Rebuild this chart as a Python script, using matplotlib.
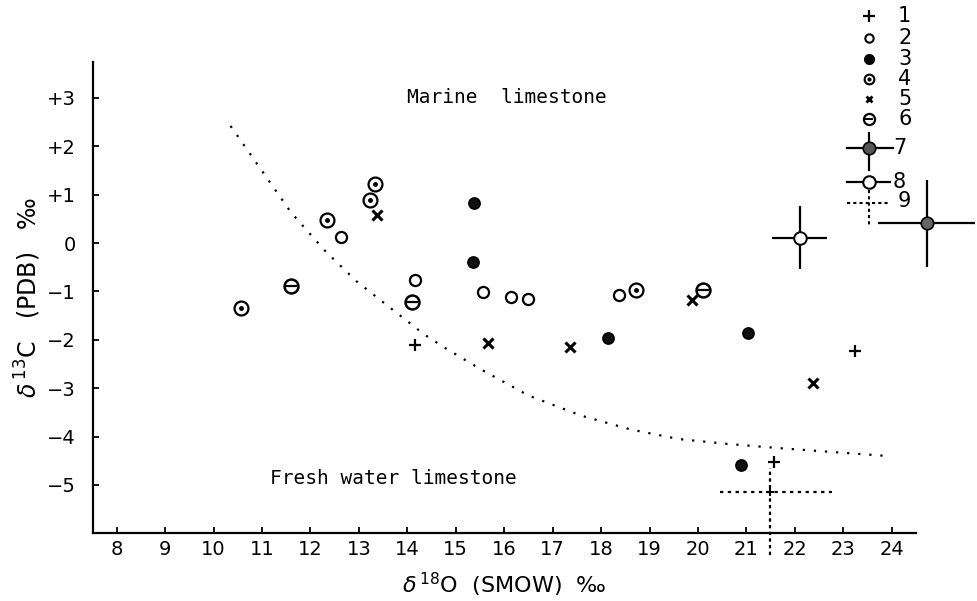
import matplotlib
matplotlib.use("Agg")
import matplotlib.pyplot as plt
import numpy as np

plt.rcParams['font.family'] = ['DejaVu Sans']

# delta18O (SMOW) / delta13C (PDB)
t1_x = [14.16, 23.24, 21.56]
t1_y = [-2.11, -2.23, -4.52]
t2_x = [12.63, 14.16, 15.56, 16.14, 16.50, 18.37]
t2_y = [0.13, -0.76, -1.01, -1.11, -1.16, -1.07]
t3_x = [15.38, 15.36, 18.15, 21.04, 20.89]
t3_y = [0.82, -0.40, -1.96, -1.85, -4.59]
t4_x = [13.33, 13.23, 12.34, 10.57, 18.73]
t4_y = [1.23, 0.89, 0.48, -1.34, -0.96]
t5_x = [13.37, 15.67, 17.36, 19.87, 22.38]
t5_y = [0.58, -2.06, -2.14, -1.18, -2.89]
t6_x = [11.60, 14.10, 20.10]
t6_y = [-0.89, -1.21, -0.97]
# points with ranges
t7 = dict(x=24.72, y=0.41, xerr=1.0, yerr=0.9)
t8 = dict(x=22.10, y=0.11, xerr=0.57, yerr=0.65)
t9 = dict(x=21.49, y=-5.14, xlo=20.46, xhi=22.76, ylo=-6.45, yhi=-4.65)

# dotted boundary marine / fresh water
bx = [10.35, 11.0, 11.6, 12.3, 12.95, 13.7, 14.35, 14.75, 15.5, 16.5,
      17.6, 18.6, 19.6, 20.6, 21.7, 22.8, 23.9]
by = [2.42, 1.49, 0.63, -0.16, -0.79, -1.38, -1.89, -2.15, -2.6, -3.15,
      -3.57, -3.85, -4.05, -4.15, -4.24, -4.32, -4.40]

xticks = list(range(8, 25))
yticks = [3, 2, 1, 0, -1, -2, -3, -4, -5]
ylabels = ['+3', '+2', '+1', '0', '\u22121', '\u22122', '\u22123', '\u22124', '\u22125']
legend_nums = ['1', '2', '3', '4', '5', '6', '7', '8', '9']
legend_ypix = [16, 38, 59, 79, 99, 119, 148, 182, 201]

fig = plt.figure(figsize=(9.77, 6.01), dpi=100)
ax = fig.add_axes([0.0947, 0.1125, 0.8428, 0.785])
ax.set_xlim(7.5, 24.5)
ax.set_ylim(-6.0, 3.75)

for s in ['top', 'right']:
    ax.spines[s].set_visible(False)
for s in ['left', 'bottom']:
    ax.spines[s].set_linewidth(1.6)

ax.set_xticks(xticks)
ax.set_yticks(yticks)
ax.set_yticklabels(ylabels)
ax.tick_params(direction='in', length=4, width=1.3, labelsize=14)
ax.tick_params(axis='x', pad=5)
ax.tick_params(axis='y', pad=12)

ax.set_xlabel(r'$\delta\,^{18}$O  (SMOW)  ‰', fontsize=16, labelpad=8)
ax.set_ylabel(r'$\delta\,^{13}$C   (PDB)   ‰', fontsize=17, labelpad=3)

ax.plot(bx, by, linestyle=(0, (1, 4)), color='black', lw=1.6)

ms = 8
ax.plot(t1_x, t1_y, '+', color='black', ms=9, mew=1.6, ls='none')
ax.plot(t2_x, t2_y, 'o', mfc='white', mec='black', ms=ms, mew=1.6, ls='none')
ax.plot(t3_x, t3_y, 'o', mfc='#111111', mec='black', ms=ms, mew=1.2, ls='none')
ax.plot(t4_x, t4_y, 'o', mfc='white', mec='black', ms=10, mew=1.6, ls='none')
ax.plot(t4_x, t4_y, 'o', color='black', ms=2.5, ls='none')
ax.plot(t5_x, t5_y, 'x', color='black', ms=7, mew=2.2, ls='none')
ax.plot(t6_x, t6_y, 'o', mfc='white', mec='black', ms=10, mew=1.8, ls='none')
ax.plot(t6_x, t6_y, '_', color='black', ms=8, mew=1.6, ls='none')

ax.errorbar(t7['x'], t7['y'], xerr=t7['xerr'], yerr=t7['yerr'], fmt='o',
            mfc='#666666', mec='black', ms=9, mew=1.2, ecolor='black',
            elinewidth=1.6, capsize=0, clip_on=False)
ax.errorbar(t8['x'], t8['y'], xerr=t8['xerr'], yerr=t8['yerr'], fmt='o',
            mfc='white', mec='black', ms=9, mew=1.4, ecolor='black',
            elinewidth=1.6, capsize=0, clip_on=False)
ax.plot([t9['xlo'], t9['xhi']], [t9['y'], t9['y']], ls=(0, (1.5, 2)),
        color='black', lw=1.6, clip_on=False)
ax.plot([t9['x'], t9['x']], [t9['ylo'], t9['yhi']], ls=(0, (1.5, 1.5)),
        color='black', lw=1.6, clip_on=False)
ax.plot(t9['x'], t9['y'], '+', color='black', ms=6, mew=1.4, clip_on=False)

ax.text(13.99, 3.0, 'Marine  limestone', fontsize=14, va='center', ha='left',
        family='DejaVu Sans Mono')
ax.text(11.16, -4.86, 'Fresh water limestone', fontsize=14, va='center', ha='left',
        family='DejaVu Sans Mono')

# legend in pixel coordinates of the figure
lg = fig.add_axes([0, 0, 1, 1], facecolor='none')
lg.set_xlim(0, 977)
lg.set_ylim(601, 0)
lg.axis('off')
kx = 869
ys = legend_ypix
lg.plot(kx, ys[0], '+', color='black', ms=8, mew=1.6)
lg.plot(kx, ys[1], 'o', mfc='white', mec='black', ms=6, mew=1.5)
lg.plot(kx, ys[2], 'o', color='black', ms=7)
lg.plot(kx, ys[3], 'o', mfc='white', mec='black', ms=7, mew=1.5)
lg.plot(kx, ys[3], 'o', color='black', ms=2)
lg.plot(kx, ys[4], 'x', color='black', ms=5, mew=2)
lg.plot(kx, ys[5], 'o', mfc='white', mec='black', ms=8, mew=1.6)
lg.plot(kx, ys[5], '_', color='black', ms=6, mew=1.4)
lg.plot([847, 893], [ys[6], ys[6]], color='black', lw=1.6)
lg.plot([kx, kx], [133, 170], color='black', lw=1.6)
lg.plot(kx, ys[6], 'o', mfc='#555555', mec='black', ms=9, mew=1.2)
lg.plot([847, 890], [ys[7], ys[7]], color='black', lw=1.6)
lg.plot(kx, ys[7], 'o', mfc='white', mec='black', ms=9, mew=1.5)
lg.plot([847, 890], [ys[8] + 2, ys[8] + 2], ls=(0, (1.5, 1.5)), color='black', lw=1.5)
lg.plot([kx, kx], [190, 226], ls=(0, (1.5, 1.5)), color='black', lw=1.5)
for n, y in zip(legend_nums, ys):
    lg.text(893 if n in '78' else 898, y, n, fontsize=15, va='center', ha='left')

fig.savefig('out.png', dpi=100)
